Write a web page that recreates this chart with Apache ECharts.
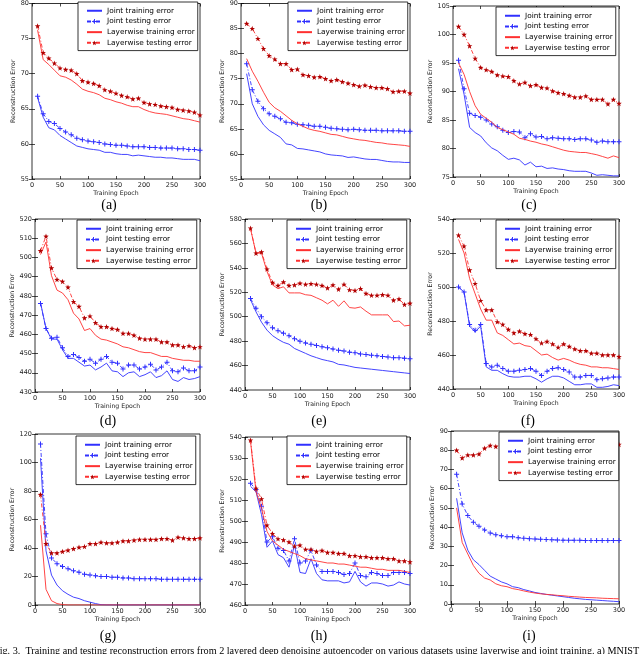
<!DOCTYPE html>
<html><head><meta charset="utf-8">
<script src="https://cdn.jsdelivr.net/npm/echarts@6/dist/echarts.min.js"></script>
<style>html,body{margin:0;padding:0;background:#fff}#c{width:640px;height:654px}</style>
</head><body><div id="c"></div>
<script>
const epochs = [10,20,30,40,50,60,70,80,90,100,110,120,130,140,150,160,170,180,190,200,210,220,230,240,250,260,270,280,290,300];
const seriesNames = ['Joint training error','Joint testing error','Layerwise training error','Layerwise testing error'];
const panelLabels = ['(a)','(b)','(c)','(d)','(e)','(f)','(g)','(h)','(i)'];
const xTickMin = 0, xTickMax = 300, xTickStep = 50;
const yMins  = [55,55,75,430,440,440,0,460,0];
const yMaxs  = [80,90,105,520,580,540,120,540,90];
const ySteps = [5,5,5,10,20,20,20,10,10];
const xTitle = 'Training Epoch';
const yTitle = 'Reconstruction Error';
const caption = 'Fig. 3.  Training and testing reconstruction errors from 2 layered deep denoising autoencoder on various datasets using layerwise and joint training. a) MNIST';

// (a)
const aJointTrain = [66.6,63.8,62.3,62.0,61.2,60.7,60.2,59.7,59.5,59.3,59.2,59.1,58.8,58.8,58.6,58.5,58.5,58.3,58.4,58.3,58.2,58.1,58.1,58.0,58.0,57.9,57.8,57.8,57.8,57.6];
const aJointTest  = [66.8,64.3,63.2,62.9,62.2,61.7,61.3,60.8,60.6,60.4,60.3,60.2,60.0,59.9,59.8,59.8,59.7,59.6,59.6,59.6,59.5,59.5,59.4,59.4,59.4,59.3,59.3,59.2,59.2,59.1];
const aLayerTrain = [76.2,72.0,71.3,70.5,69.7,69.5,69.1,68.5,67.8,67.5,67.3,67.0,66.5,66.3,66.0,65.8,65.5,65.3,65.3,64.9,64.6,64.4,64.3,64.2,64.0,63.8,63.6,63.5,63.3,63.1];
const aLayerTest  = [76.8,73.0,72.2,71.5,70.8,70.6,70.5,70.0,69.0,68.8,68.6,68.3,67.7,67.5,67.2,66.9,66.7,66.4,66.5,65.9,65.7,65.6,65.4,65.3,65.2,64.9,64.8,64.7,64.5,64.1];
// (b)
const bJointTrain = [76.0,70.0,67.5,65.8,64.7,64.0,63.3,62.0,61.8,61.1,61.0,60.8,60.6,60.4,60.0,59.8,59.7,59.6,59.3,59.4,59.2,59.0,58.9,58.9,58.7,58.5,58.4,58.4,58.3,58.3];
const bJointTest  = [78.0,72.8,70.5,69.0,68.0,67.5,67.0,66.3,66.2,65.9,65.8,65.7,65.5,65.5,65.3,65.1,65.0,64.9,64.8,64.9,64.8,64.7,64.7,64.7,64.6,64.6,64.6,64.6,64.5,64.5];
const bLayerTrain = [79.0,76.5,74.5,72.3,70.3,69.2,68.5,67.6,66.7,66.0,65.5,65.0,64.7,64.5,64.2,63.9,63.8,63.5,63.2,63.0,62.8,62.7,62.5,62.3,62.2,62.0,61.9,61.8,61.7,61.5];
const bLayerTest  = [86.0,85.0,83.0,81.0,79.6,78.9,78.0,78.0,76.8,76.9,75.8,75.6,75.3,75.4,75.0,74.6,74.8,74.4,74.1,73.8,73.5,73.7,73.4,73.2,73.2,73.0,72.4,72.5,72.5,72.1];
// (c)
const cJointTrain = [94.0,89.5,83.7,82.8,82.2,81.0,80.1,79.6,78.8,78.1,78.3,78.0,77.1,77.6,76.8,76.9,76.5,76.6,76.4,76.3,76.1,76.0,76.0,76.0,75.7,75.3,75.4,75.3,75.2,75.2];
const cJointTest  = [95.5,90.5,86.2,85.8,85.5,85.0,84.3,83.8,83.2,82.8,83.0,82.9,81.9,82.6,82.0,82.1,81.7,81.9,81.8,81.7,81.7,81.6,81.7,81.7,81.5,81.1,81.3,81.2,81.2,81.2];
const cLayerTrain = [95.0,93.0,90.0,87.5,86.0,85.3,84.6,83.7,83.3,82.9,82.5,81.8,81.6,81.3,81.1,80.8,80.6,80.3,80.0,79.7,79.5,79.4,79.3,79.3,79.1,78.9,78.6,78.3,78.7,78.4];
const cLayerTest  = [101.4,100.0,98.0,95.8,94.2,93.8,93.5,92.9,92.7,92.6,91.9,91.3,91.6,91.0,91.2,90.7,90.6,90.1,89.8,89.6,89.3,89.0,89.0,89.2,88.6,88.6,88.6,87.8,88.6,87.9];
// (d)
const dJointTrain = [476.5,463,457.5,457.5,452,447.5,447.5,445.5,443.5,444,441.5,443,445,441,440.5,438,440,440.5,438,439,440.5,437.5,438.5,441,436.5,435.5,437.5,436.5,437,438];
const dJointTest  = [476,463,458,458.5,453,448.5,449.5,448,446,447,445,447,448.5,445.5,445,442,444,444,442,443,444.5,441.5,443,445.5,441,440.5,442.5,441,441,443];
const dLayerTrain = [501.5,508,490.5,483,481.5,478,471,468,462,463,459.5,457.5,457,456,455,453.5,453,452,451,450.5,450.5,449.5,448.5,448.5,447.5,447,446.5,446.5,446,446];
const dLayerTest  = [503.5,511,494.5,488.5,487.5,484.5,477,474.5,468.5,469.5,466,464,464,463,462.5,460.5,460.5,459.5,458,457.5,457.5,457.5,456,456,454.5,454.5,453.5,454,453,453.5];
// (e)
const eJointTrain = [514,504,495.5,489,484.5,481.5,479,477.5,474,472,470,468,466.5,465,464,463,461,460.5,459.5,458.5,458,457.5,457,456.5,456,455.5,455,454.5,454,453.5];
const eJointTest  = [515,507,500,495,491,488.5,486.5,484.5,482,480,478.5,477.5,476.5,475.5,474.5,473.5,472.5,472,471,470.5,469.5,469,468.5,468,467.5,467,466.5,466.5,466,465.5];
const eLayerTrain = [572,552,552,537,526,523,524.5,519.5,519.5,519.5,518,517.5,515.5,513.5,510.5,513.5,508.5,513,507.5,507,508,504.5,501.5,501.5,501.5,501.5,496,496.5,492.5,493];
const eLayerTest  = [572.5,552,553,539,528,525.5,528.5,525.5,526,527.5,526.5,527,526.5,525.5,523.5,526,522.5,526.5,522,521.5,523,519,517.5,517.5,518,517.5,513.5,514.5,510,511];
// (f)
const fJointTrain = [500,497,477,473.5,477,453,451,451,449,447.5,447,447,447.5,447.5,446,444,446,447.5,447.5,446.5,444.5,442.5,442.5,443,443,441,441,441.5,442.5,442];
const fJointTest  = [500,497,478,474.5,478,455,453,454,452,450.5,450.5,451,451.5,452,450.5,448,450.5,452,452.5,451.5,450,447,447,448,448,445.5,446,446.5,447,447];
const fLayerTrain = [528,520,505,496,487,480.5,480.5,473,471.5,469,466.5,467,465.5,465,462.5,460,460.5,458.5,457,458,457,455.5,454.5,454,453,453,452.5,452.5,452,451.5];
const fLayerTest  = [530.5,524,510,502,492,486.5,486.5,479.5,478,475,473,474,472.5,472,469.5,467,468,466.5,464.5,466.5,465,463.5,462.5,462.5,461,461,460,460,460,459];
// (g)
const gJointTrain = [103,38,21,14,10,7.5,5.5,4.5,3,2,1,0.2,0,0,0,0,0,0,0,0,0,0,0,0,0,0,0,0,0,0];
const gJointTest  = [113,50,33,29,27,25.5,24,23,21.5,21,20.5,20,20,19.5,19.5,19,19,18.5,18.5,18.5,18.5,18.5,18,18,18,18,18,18,18,18];
const gLayerTrain = [56,11,3,1,0.3,0,0,0,0,0,0,0,0,0,0,0,0,0,0,0,0,0,0,0,0,0,0,0,0,0];
const gLayerTest  = [77.5,43,36.5,36.5,37.5,38.5,39.5,40.5,41,43,43,44,43.5,43.5,44,45,45,45.5,46,46,46,46,46.5,46.5,45.5,47.5,47,46.5,46.5,47];
// (h)
const hJointTrain = [516.5,514,503,487.5,490.5,484,482.5,478,488.5,475.5,475,482,475,472,471.5,471.5,471.5,470.5,471,476,471,469,470.5,470.5,470,469,469.5,471,470,469.5];
const hJointTest  = [518,515,507,490,492.5,487,486,481,491.5,480,481,486,479,476,476,476,475.5,474.5,475,480,474,473.5,475.5,475,474,474,475.5,475.5,475.5,475];
const hLayerTrain = [538,514,506,495,490.5,488.5,486.5,485.5,484.5,483.5,482,481.5,481,480.5,480,480,479.5,479.5,479,478.5,478,478,477.5,477,477,476.5,476.5,476.5,476,475.5];
const hLayerTest  = [538.5,515.5,510.5,498,494,491.5,491,490,488,488.5,486.5,486.5,485.5,486,485,485,484.5,484.5,483.5,483.5,483,483,482.5,482.5,482.5,482,482,481,481,480.5];
// (i)
const iJointTrain = [55,37,28,23,20.5,17.5,14.5,13,11.5,10.5,9,8.5,7.5,6.8,6,5.5,5,4.6,4.2,3.8,3.4,3,2.7,2.4,2.2,2,1.8,1.6,1.4,1.2];
const iJointTest  = [67.5,52,46,42.5,40.5,38.5,37,36,35.5,35,35,34.5,34.2,34,33.8,33.7,33.5,33.4,33.3,33.2,33.2,33.1,33.1,33,33,33,33,33,33,33];
const iLayerTrain = [50,32,26,20,16,13.5,12.5,10.5,9.5,9,8,7.5,6.8,6.2,5.7,5.3,5,4.8,4.5,4.3,4,3.8,3.6,3.4,3.3,3.2,3,2.9,2.8,2.7];
const iLayerTest  = [80,76,77.5,77.5,78,81,82.5,82,83,83.5,84,84,84,84,84,84,84,84,84,84,84,84,84,84,84,84,84,84,84,83];

const panelData = [
  [aJointTrain,aJointTest,aLayerTrain,aLayerTest],
  [bJointTrain,bJointTest,bLayerTrain,bLayerTest],
  [cJointTrain,cJointTest,cLayerTrain,cLayerTest],
  [dJointTrain,dJointTest,dLayerTrain,dLayerTest],
  [eJointTrain,eJointTest,eLayerTrain,eLayerTest],
  [fJointTrain,fJointTest,fLayerTrain,fLayerTest],
  [gJointTrain,gJointTest,gLayerTrain,gLayerTest],
  [hJointTrain,hJointTest,hLayerTrain,hLayerTest],
  [iJointTrain,iJointTest,iLayerTrain,iLayerTest]
];

// layout (pixels)
const layout = [
  {l:32, t:2,   w:168, h:177, legL:78,  legT:2,   yGap:11, xGap:6, labX:109, labY:205},
  {l:241,t:2,   w:169, h:177, legL:288, legT:2,   yGap:11, xGap:6, labX:319, labY:205},
  {l:453,t:6,   w:166, h:171, legL:496, legT:7,   yGap:13, xGap:8, labX:529, labY:205},
  {l:35, t:219, w:165, h:173, legL:77,  legT:220, yGap:13, xGap:7, labX:108, labY:421},
  {l:245,t:219, w:165, h:171, legL:287, legT:220, yGap:14, xGap:8, labX:319, labY:421},
  {l:453,t:219, w:166, h:170, legL:496, legT:220, yGap:13, xGap:9, labX:528, labY:421},
  {l:35, t:434, w:165, h:171, legL:76,  legT:436, yGap:14, xGap:8, labX:108, labY:636},
  {l:245,t:437, w:165, h:168, legL:287, legT:436, yGap:14, xGap:8, labX:319, labY:636},
  {l:451,t:431, w:168, h:173, legL:499, legT:432, yGap:12, xGap:9, labX:529, labY:636}
];

const BLUE = '#3030ff', RED = '#ff3030';
const STAR = 'path://M0,-10 L2.35,-3.24 L9.51,-3.09 L3.8,1.24 L5.88,8.09 L0,4 L-5.88,8.09 L-3.8,1.24 L-9.51,-3.09 L-2.35,-3.24 Z';
const PLUS = 'path://M4,0 L6,0 L6,4 L10,4 L10,6 L6,6 L6,10 L4,10 L4,6 L0,6 L0,4 L4,4 Z';
const FONT = 'DejaVu Sans';

const seriesStyles = [
  {color:BLUE, type:'solid', symbol:'none'},
  {color:BLUE, type:[4,2,1,2], symbol:PLUS, size:5, sym:BLUE},
  {color:RED, type:'solid', symbol:'none'},
  {color:RED, type:[4,2,1,2], symbol:STAR, size:5.5, sym:'#b00000'}
];

const grid=[], xAxis=[], yAxis=[], series=[], legend=[], graphic=[];
const tick = {show:true, inside:true, length:3, lineStyle:{color:'#000', width:0.7}};
const legendData = seriesNames.map((n,k)=> seriesStyles[k].symbol === 'none'
  ? {name:n, itemStyle:{opacity:0}} : {name:n});

layout.forEach((L,i)=>{
  grid.push({left:L.l, top:L.t, width:L.w, height:L.h, show:true, borderColor:'#000', borderWidth:0.8, backgroundColor:'transparent'});
  xAxis.push({gridIndex:i, type:'value', min:xTickMin, max:xTickMax, interval:xTickStep,
    axisLine:{show:false}, axisTick:tick, splitLine:{show:false},
    axisLabel:{fontSize:6.5, color:'#222', margin:3, fontFamily:FONT},
    name:xTitle, nameLocation:'middle', nameGap:L.xGap,
    nameTextStyle:{fontSize:6.2, color:'#222', fontFamily:FONT}});
  xAxis.push({gridIndex:i, type:'value', position:'top', min:xTickMin, max:xTickMax, interval:xTickStep,
    axisLine:{show:false}, axisTick:tick, splitLine:{show:false}, axisLabel:{show:false}});
  yAxis.push({gridIndex:i, type:'value', min:yMins[i], max:yMaxs[i], interval:ySteps[i],
    axisLine:{show:false}, axisTick:tick, splitLine:{show:false},
    axisLabel:{fontSize:6.5, color:'#222', margin:3, fontFamily:FONT},
    name:yTitle, nameLocation:'middle', nameGap:L.yGap, nameRotate:90,
    nameTextStyle:{fontSize:6.2, color:'#222', fontFamily:FONT}});
  yAxis.push({gridIndex:i, type:'value', position:'right', min:yMins[i], max:yMaxs[i], interval:ySteps[i],
    axisLine:{show:false}, axisTick:tick, splitLine:{show:false}, axisLabel:{show:false}});

  panelData[i].forEach((vals,k)=>{
    const st = seriesStyles[k];
    series.push({
      type:'line', name:seriesNames[k], xAxisIndex:2*i, yAxisIndex:2*i,
      data: epochs.map((e,j)=>[e, vals[j]]),
      symbol: st.symbol, symbolSize: st.size || 0, showSymbol: st.symbol !== 'none',
      lineStyle:{color:st.color, width:0.9, type:st.type},
      itemStyle:{color: st.sym || st.color},
      emphasis:{disabled:true}, silent:true, z:2+k*0.1, clip:true
    });
  });

  legend.push({
    left:L.legL, top:L.legT, orient:'vertical', data:legendData,
    itemWidth:15, itemHeight:6, itemGap:1.2,
    padding:[4,3,3,8],
    backgroundColor:'#fff', borderColor:'#000', borderWidth:0.8,
    textStyle:{fontSize:7.35, color:'#000', fontFamily:FONT, lineHeight:9.5},
    selectedMode:false, z:10
  });

  graphic.push({type:'text', x:L.labX, y:L.labY,
    style:{text:panelLabels[i], fontSize:14, fontFamily:'Liberation Serif', fill:'#000', align:'center', verticalAlign:'middle'}});
});

graphic.push({type:'text', x:-6, y:646,
  style:{text:caption, fontSize:10.2, fontFamily:'Liberation Serif', fill:'#000', align:'left', verticalAlign:'top'}});

const chart = echarts.init(document.getElementById('c'), null, {renderer:'canvas'});
chart.setOption({animation:false, backgroundColor:'#fff', grid, xAxis, yAxis, series, legend, graphic});
</script>
</body></html>
